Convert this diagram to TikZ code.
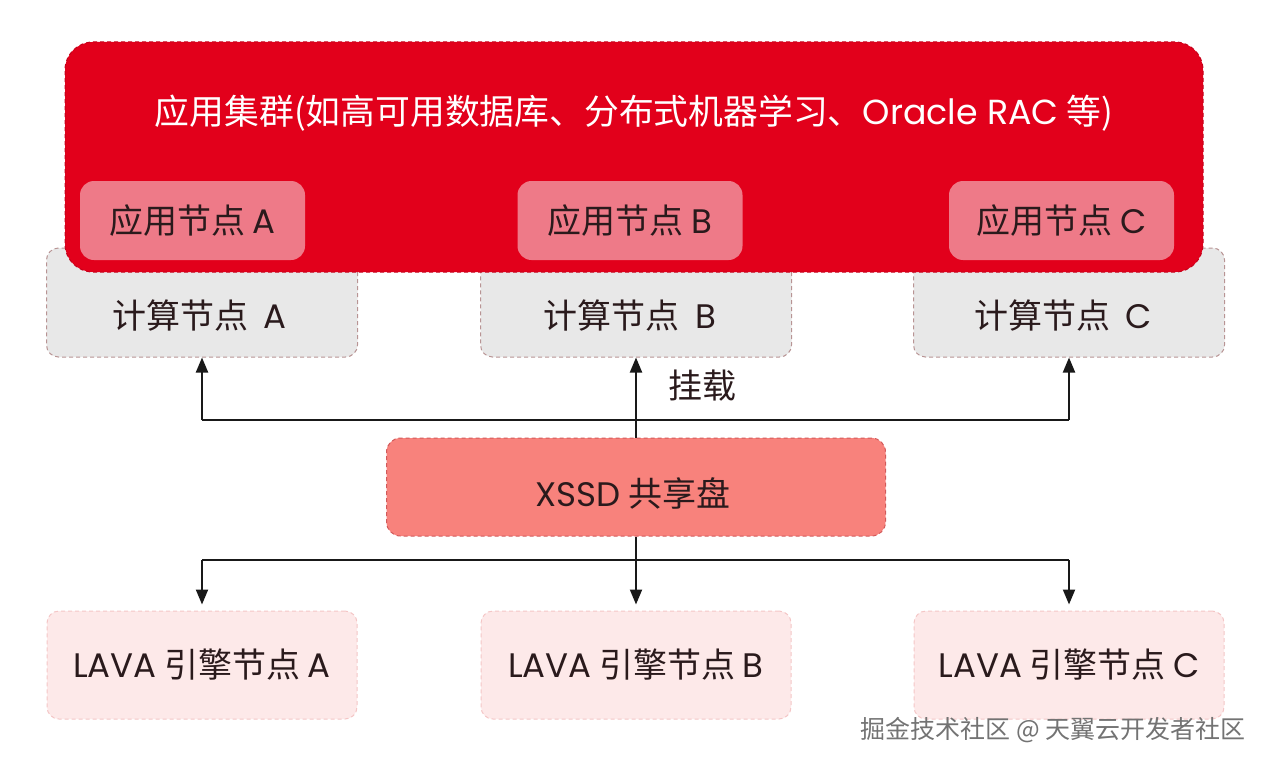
\documentclass[tikz,border=0pt]{standalone}
\usepackage{fontspec}
\setmainfont{Noto Sans CJK SC}
\newfontfamily\lat{Poppins}
\usetikzlibrary{arrows.meta}
\definecolor{clusterred}{HTML}{E2001B}
\definecolor{clusterborder}{HTML}{C4001A}
\definecolor{appfill}{HTML}{EE7A88}
\definecolor{compfill}{HTML}{E8E8E8}
\definecolor{compborder}{HTML}{B89494}
\definecolor{xssdfill}{HTML}{F8827C}
\definecolor{xssdborder}{HTML}{D25A5A}
\definecolor{lavafill}{HTML}{FDE9E9}
\definecolor{lavaborder}{HTML}{F4C6C6}
\definecolor{txt}{HTML}{2A1A1C}
\tikzset{
  dsh/.style={dash pattern=on 2pt off 1.5pt, line width=0.5pt},
  lbl/.style={text=txt, font=\fontsize{17pt}{20pt}\selectfont},
  clusterbox/.style={draw=clusterborder, dsh, fill=clusterred, rounded corners=14pt, minimum width=569pt, minimum height=115pt, inner sep=0pt},
  appbox/.style={lbl, fill=appfill, rounded corners=7pt, minimum width=112.5pt, minimum height=39.5pt, inner sep=0pt},
  compbox/.style={draw=compborder, dsh, fill=compfill, rounded corners=6pt, minimum width=155.5pt, minimum height=54.5pt, inner sep=0pt},
  comptext/.style={lbl, inner sep=0pt},
  xssdbox/.style={lbl, draw=xssdborder, dsh, fill=xssdfill, rounded corners=7pt, minimum width=249.5pt, minimum height=49pt, inner sep=0pt},
  lavabox/.style={lbl, draw=lavaborder, dsh, fill=lavafill, rounded corners=6pt, minimum width=155pt, minimum height=54pt, inner sep=0pt},
  conn/.style={draw=black!90, line width=1pt},
  arr/.style={conn, -{Triangle[length=7.5pt,width=6pt]}},
}
\begin{document}
\begin{tikzpicture}[x=0.5pt,y=-0.5pt]
\useasboundingbox (0,0) rectangle (1267,765);
% compute nodes (behind cluster)
\node[compbox] (cA) at (202,302.5) {};
\node[compbox] (cB) at (636,302.5) {};
\node[compbox] (cC) at (1069,302.5) {};
\node[comptext] (cAt) at (199.5,316) {计算节点\ \ {\lat A}};
\node[comptext] (cBt) at (630,316) {计算节点\ \ {\lat B}};
\node[comptext] (cCt) at (1063,316) {计算节点\ \ {\lat C}};
% cluster
\node[clusterbox] (cl) at (634,157) {};
\node[text=white, font=\fontsize{17.4pt}{20pt}\selectfont, inner sep=0pt] (clt) at (634,113) {应用集群(如高可用数据库、分布式机器学习、{\lat Oracle RAC} 等)};
\node[appbox] (aA) at (192.5,220.5) {应用节点 {\lat A}};
\node[appbox] (aB) at (630,220.5) {应用节点 {\lat B}};
\node[appbox] (aC) at (1061.5,220.5) {应用节点 {\lat C}};
% xssd
\node[xssdbox] (x) at (636,487) {};
\node[lbl, inner sep=0pt] (xt) at (633,493) {{\lat XSSD} 共享盘};
% lava
\node[lavabox] (lA) at (202,665) {{\lat LAVA} 引擎节点 {\lat A}};
\node[lavabox] (lB) at (636,665) {{\lat LAVA} 引擎节点 {\lat B}};
\node[lavabox] (lC) at (1069,665) {{\lat LAVA} 引擎节点 {\lat C}};
% connectors
\coordinate (uA) at (202,420);
\coordinate (uC) at (1069,420);
\coordinate (dA) at (202,560);
\coordinate (dC) at (1069,560);
\draw[conn] (uA) -- (uC);
\draw[arr] (uA) -- (cA.south);
\draw[arr] (uC) -- (cC.south);
\draw[arr] (x.north) -- (cB.south);
\draw[conn] (dA) -- (dC);
\draw[arr, shorten >=3pt] (x.south) -- (lB.north);
\draw[arr, shorten >=3pt] (dA) -- (lA.north);
\draw[arr, shorten >=3pt] (dC) -- (lC.north);
\node[lbl, inner sep=0pt] (mnt) at (702,386) {挂载};
% watermark
\node[text=black!55, font=\fontsize{12.5pt}{14pt}\selectfont, inner sep=0pt] (wm) at (1053,730) {掘金技术社区 @ 天翼云开发者社区};
\end{tikzpicture}
\end{document}
